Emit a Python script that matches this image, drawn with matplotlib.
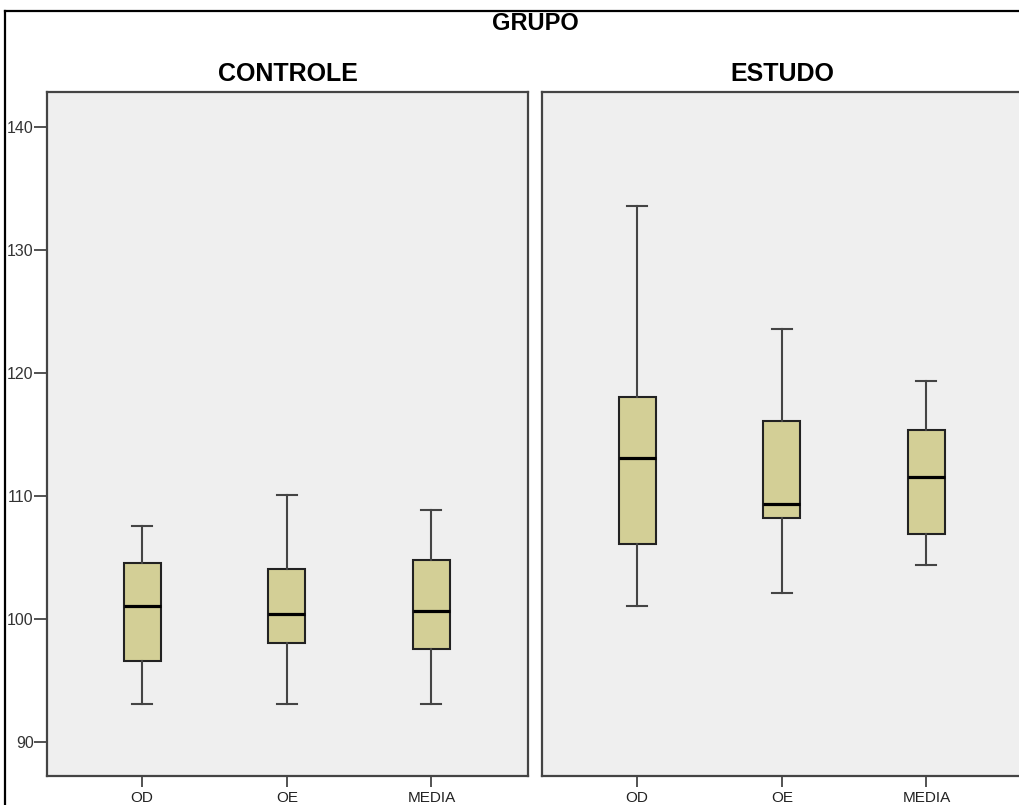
import matplotlib
matplotlib.use("Agg")
import matplotlib.pyplot as plt
from matplotlib.lines import Line2D

plt.rcParams['font.family'] = ['Liberation Sans', 'DejaVu Sans']

# Data (box stats per group)
groups = ['CONTROLE', 'ESTUDO']
variables = ['OD', 'OE', 'MEDIA']

controle_min = [93.1, 93.1, 93.1]
controle_q1 = [96.6, 98.1, 97.6]
controle_med = [101.1, 100.4, 100.7]
controle_q3 = [104.6, 104.1, 104.8]
controle_max = [107.6, 110.1, 108.9]

estudo_min = [101.1, 102.1, 104.4]
estudo_q1 = [106.1, 108.2, 106.9]
estudo_med = [113.1, 109.4, 111.6]
estudo_q3 = [118.1, 116.1, 115.35]
estudo_max = [133.6, 123.6, 119.4]

yticks = [90, 100, 110, 120, 130, 140]


def make_stats(lo, q1, med, q3, hi):
    stats = []
    for i, v in enumerate(variables):
        stats.append({'label': v, 'whislo': lo[i], 'q1': q1[i], 'med': med[i],
                      'q3': q3[i], 'whishi': hi[i], 'fliers': []})
    return stats


panel_stats = [
    make_stats(controle_min, controle_q1, controle_med, controle_q3, controle_max),
    make_stats(estudo_min, estudo_q1, estudo_med, estudo_q3, estudo_max),
]

W, H = 1019, 805
fig = plt.figure(figsize=(W / 100, H / 100), dpi=100)

# outer frame: only top and left edges are visible (image is cropped)
fx = 5 / W
fy = 1 - 11 / H
fig.lines.append(Line2D([fx, fx], [-0.05, fy], transform=fig.transFigure,
                        color='black', linewidth=1.6, solid_capstyle='projecting'))
fig.lines.append(Line2D([fx, 1.05], [fy, fy], transform=fig.transFigure,
                        color='black', linewidth=1.6, solid_capstyle='projecting'))

panel_w = 481.6 / W
bottom = 1 - 776 / H
top = 1 - 91.7 / H
lefts = [46.7 / W, 541.7 / W]

for k in range(2):
    ax = fig.add_axes([lefts[k], bottom, panel_w, top - bottom])
    ax.set_facecolor('#efefef')
    ax.bxp(panel_stats[k], positions=[0, 1, 2], widths=0.256, showfliers=False,
           patch_artist=True,
           boxprops=dict(facecolor='#d3cf96', edgecolor='#222222', linewidth=1.5),
           medianprops=dict(color='black', linewidth=2.3),
           whiskerprops=dict(color='#444444', linewidth=1.5),
           capprops=dict(color='#444444', linewidth=1.5),
           capwidths=0.138)
    ax.set_xlim(-0.66, 2.67)
    ax.set_ylim(87.25, 142.9)
    for s in ax.spines.values():
        s.set_color('#444444')
        s.set_linewidth(1.6)
    ax.set_xticks([0, 1, 2])
    ax.set_xticklabels(variables, fontsize=11, color='#222222')
    ax.tick_params(axis='x', length=8, width=1.3, color='#444444', pad=3)
    if k == 0:
        ax.set_yticks(yticks)
        ax.set_yticklabels([str(t) for t in yticks], fontsize=11.5, color='#333333')
        ax.tick_params(axis='y', length=9.5, width=1.3, color='#444444', pad=0)
    else:
        ax.set_yticks([])
        # right edge of this panel lies outside the cropped picture
        ax.spines['right'].set_visible(False)
    ax.set_title(groups[k], fontsize=18, fontweight='bold', pad=8)

fig.text(535 / W, 1 - 24 / H, 'GRUPO', ha='center', va='center',
         fontsize=17, fontweight='bold')

fig.savefig('out.png', dpi=100)
